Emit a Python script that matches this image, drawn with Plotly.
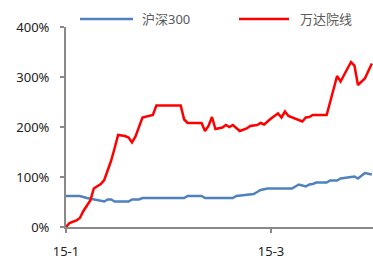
import plotly.graph_objects as go

# 万达院线 (relative change, %)
wanda_dates = ["2015-01-01", "2015-01-02", "2015-01-04", "2015-01-05", "2015-01-06", "2015-01-08",
               "2015-01-09", "2015-01-11", "2015-01-12", "2015-01-13", "2015-01-14", "2015-01-15",
               "2015-01-16", "2015-01-18", "2015-01-19", "2015-01-20", "2015-01-21", "2015-01-23",
               "2015-01-25", "2015-01-26", "2015-01-27", "2015-02-03", "2015-02-04", "2015-02-05",
               "2015-02-09", "2015-02-10", "2015-02-11", "2015-02-12", "2015-02-13", "2015-02-15",
               "2015-02-16", "2015-02-17", "2015-02-18", "2015-02-20", "2015-02-22", "2015-02-23",
               "2015-02-25", "2015-02-26", "2015-02-27", "2015-03-01", "2015-03-03", "2015-03-04",
               "2015-03-05", "2015-03-06", "2015-03-10", "2015-03-11", "2015-03-12", "2015-03-13",
               "2015-03-17", "2015-03-19", "2015-03-20", "2015-03-21", "2015-03-24", "2015-03-25",
               "2015-03-26", "2015-03-28", "2015-03-30"]
wanda_values = [0, 8, 13, 18, 32, 53,
                77, 86, 94, 112, 133, 158,
                184, 182, 179, 169, 181, 219,
                222, 224, 243, 243, 215, 208,
                208, 192, 202, 220, 196, 199,
                204, 200, 204, 192, 197, 202,
                204, 208, 205, 217, 227, 219,
                231, 222, 211, 219, 220, 224,
                224, 277, 302, 291, 330, 323,
                284, 297, 327]

# 沪深300 (relative change, %)
hs300_dates = ["2015-01-01", "2015-01-05", "2015-01-07", "2015-01-09", "2015-01-11", "2015-01-12",
               "2015-01-13", "2015-01-14", "2015-01-15", "2015-01-19", "2015-01-20", "2015-01-22",
               "2015-01-23", "2015-02-04", "2015-02-05", "2015-02-09", "2015-02-10", "2015-02-18",
               "2015-02-19", "2015-02-21", "2015-02-24", "2015-02-25", "2015-02-26", "2015-02-28",
               "2015-03-07", "2015-03-09", "2015-03-11", "2015-03-12", "2015-03-13", "2015-03-14",
               "2015-03-17", "2015-03-18", "2015-03-20", "2015-03-21", "2015-03-24", "2015-03-25",
               "2015-03-26", "2015-03-28", "2015-03-30"]
hs300_values = [62, 62, 58, 55, 52, 51,
                55, 55, 51, 51, 55, 55,
                58, 58, 62, 62, 58, 58,
                62, 63.5, 66, 70, 74, 77,
                77, 85, 81, 85, 86, 89,
                89, 93, 93, 97, 101, 101,
                97, 108, 105]

tick_dates = ["2015-01-01", "2015-03-01"]
tick_labels = ["15-1", "15-3"]
y_ticks = [0, 100, 200, 300, 400]
y_tick_labels = ["0%", "100%", "200%", "300%", "400%"]

series_names = ["沪深300", "万达院线"]
blue = "#4F81BD"
red = "#FF0000"
axis_gray = "#898989"
font_family = "Noto Sans, Noto Sans CJK SC, sans-serif"

FW, FH = 373, 260
# plot area in page px: x 66..373, y 27..230
L, R, T, B = 66, 373, 27, 230
W, H = R - L, B - T

def px_x(p):
    return (p - L) / W

def px_y(p):
    return (B - p) / H

fig = go.Figure()
fig.add_trace(go.Scatter(x=hs300_dates, y=hs300_values, mode="lines", name=series_names[0],
                         line=dict(color=blue, width=2.5), showlegend=False))
fig.add_trace(go.Scatter(x=wanda_dates, y=wanda_values, mode="lines", name=series_names[1],
                         line=dict(color=red, width=2.5), showlegend=False))

legend_items = [
    (80, 133, 140, blue, series_names[0]),
    (239, 289, 298, red, series_names[1]),
]
for x0, x1, tx, col, name in legend_items:
    fig.add_shape(type="line", xref="paper", yref="paper",
                  x0=px_x(x0), x1=px_x(x1), y0=px_y(19), y1=px_y(19),
                  line=dict(color=col, width=2.5))
    fig.add_annotation(xref="paper", yref="paper", x=px_x(tx), y=px_y(19),
                       xanchor="left", yanchor="middle", text=name, showarrow=False,
                       font=dict(family=font_family, size=13, color="#595959"))

fig.update_layout(
    width=FW, height=FH,
    margin=dict(l=L, r=FW - R, t=T, b=FH - B),
    paper_bgcolor="white", plot_bgcolor="white",
    font=dict(family=font_family, size=13, color="#222222"),
    hovermode=False,
)
fig.update_xaxes(
    type="date", range=["2015-01-01", "2015-03-30 08:00"],
    tickvals=tick_dates, ticktext=tick_labels,
    showline=True, linecolor=axis_gray, linewidth=2,
    ticks="outside", ticklen=4, tickwidth=2, tickcolor=axis_gray,
    ticklabelstandoff=7, showgrid=False, zeroline=False,
)
fig.update_yaxes(
    range=[0, 400], tickvals=y_ticks, ticktext=y_tick_labels,
    showline=True, linecolor=axis_gray, linewidth=2,
    ticks="outside", ticklen=4, tickwidth=2, tickcolor=axis_gray,
    ticklabelstandoff=8, showgrid=False, zeroline=False,
)

fig.write_html("out.html", config={"displayModeBar": False},
               post_script="document.body.style.margin='0';document.body.style.overflow='hidden';")
